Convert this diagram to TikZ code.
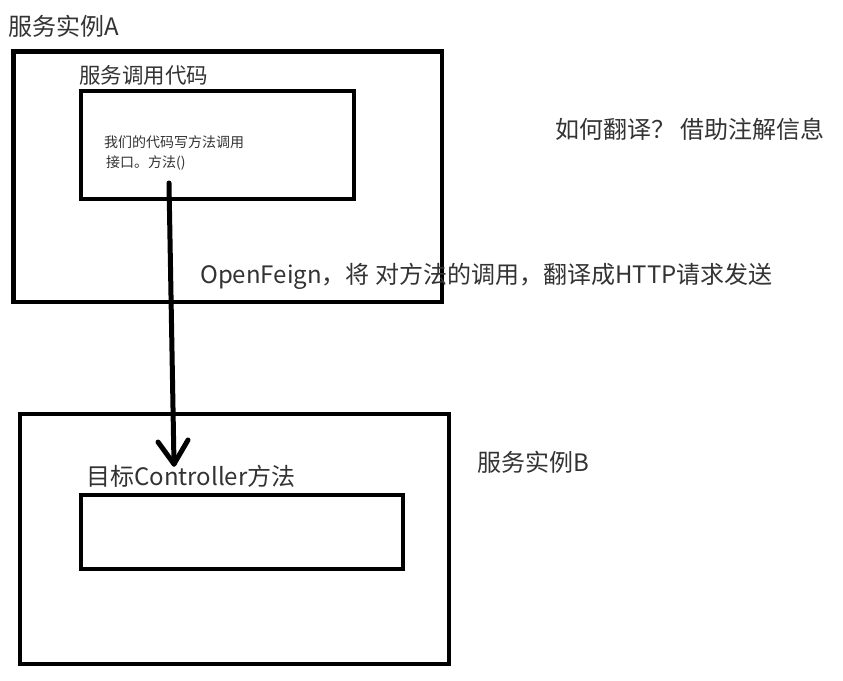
\documentclass[tikz,border=0pt]{standalone}
\usepackage{fontspec}
\setmainfont{Noto Sans CJK SC}
\definecolor{txt}{HTML}{333333}
\begin{document}
\begin{tikzpicture}[x=1pt,y=-1pt,
  box/.style={draw=black,line width=4.5pt,rectangle,inner sep=0pt,outer sep=0pt,anchor=north west},
  lbl/.style={text=txt,inner sep=0pt,anchor=west,font=\fontsize{24}{26}\selectfont},
  small/.style={text=txt,inner sep=0pt,anchor=west,font=\fontsize{14}{16}\selectfont},
  conn/.style={line width=5pt,line cap=round,line join=round}]
\useasboundingbox[fill=white] (0,0) rectangle (843,680);
% boxes
\node[box,minimum width=428.5pt,minimum height=250.5pt] (A) at (13.5,51.5) {};
\node[box,minimum width=273pt,minimum height=108pt] (Ain) at (81,91) {};
\node[box,minimum width=429pt,minimum height=250pt] (B) at (20,414) {};
\node[box,minimum width=322pt,minimum height=74pt] (Bin) at (81,495) {};
% labels
\node[lbl] (tA) at (8,26) {服务实例A};
\node[lbl,font=\fontsize{21.5}{24}\selectfont] (tAin) at (79,75) {服务调用代码};
\node[small] (t1) at (104,142) {我们的代码写方法调用};
\node[small] (t2) at (106,163) {接口。方法()};
\node[lbl] (tq) at (555,129) {如何翻译？ 借助注解信息};
\node[lbl] (tof) at (200,276) {OpenFeign，将 对方法的调用，翻译成HTTP请求发送};
\node[lbl] (tB) at (477,462) {服务实例B};
\node[lbl] (tBin) at (86,476) {目标Controller方法};
% connector
\coordinate (s) at (169,183);
\coordinate (t) at (174,464);
\draw[conn] (s) -- (t);
\draw[conn] (t) -- ++(-16,-22);
\draw[conn] (t) -- ++(14,-24);
\end{tikzpicture}
\end{document}
